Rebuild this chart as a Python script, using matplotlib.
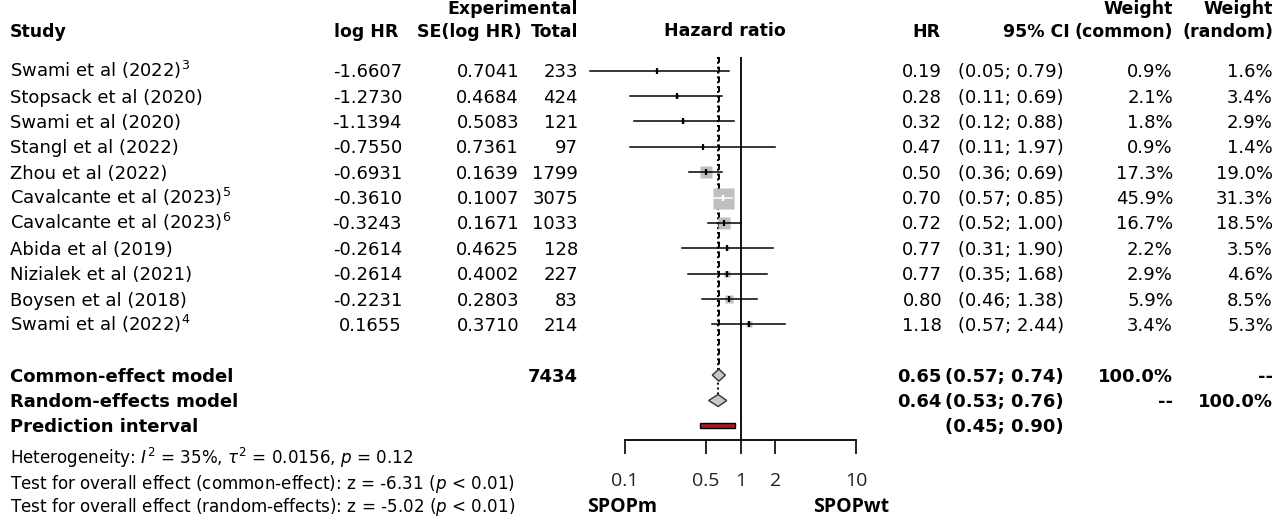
import numpy as np
import matplotlib.pyplot as plt
from matplotlib.patches import Rectangle

# study level data
studies = ["Swami et al (2022)$^{3}$", "Stopsack et al (2020)", "Swami et al (2020)",
           "Stangl et al (2022)", "Zhou et al (2022)", "Cavalcante et al (2023)$^{5}$",
           "Cavalcante et al (2023)$^{6}$", "Abida et al (2019)", "Nizialek et al (2021)",
           "Boysen et al (2018)", "Swami et al (2022)$^{4}$"]
log_hr = [-1.6607, -1.2730, -1.1394, -0.7550, -0.6931, -0.3610, -0.3243, -0.2614, -0.2614, -0.2231, 0.1655]
se_log_hr = [0.7041, 0.4684, 0.5083, 0.7361, 0.1639, 0.1007, 0.1671, 0.4625, 0.4002, 0.2803, 0.3710]
totals = [233, 424, 121, 97, 1799, 3075, 1033, 128, 227, 83, 214]
hr = [0.19, 0.28, 0.32, 0.47, 0.50, 0.70, 0.72, 0.77, 0.77, 0.80, 1.18]
ci_low = [0.05, 0.11, 0.12, 0.11, 0.36, 0.57, 0.52, 0.31, 0.35, 0.46, 0.57]
ci_high = [0.79, 0.69, 0.88, 1.97, 0.69, 0.85, 1.00, 1.90, 1.68, 1.38, 2.44]
w_common = [0.9, 2.1, 1.8, 0.9, 17.3, 45.9, 16.7, 2.2, 2.9, 5.9, 3.4]
w_random = [1.6, 3.4, 2.9, 1.4, 19.0, 31.3, 18.5, 3.5, 4.6, 8.5, 5.3]

# pooled estimates
pooled_names = ["Common-effect model", "Random-effects model"]
pooled_hr = [0.65, 0.64]
pooled_low = [0.57, 0.53]
pooled_high = [0.74, 0.76]
total_n = 7434
pred_low, pred_high = 0.45, 0.90

ticks = [0.1, 0.5, 1, 2, 10]
tick_labels = ["0.1", "0.5", "1", "2", "10"]

plt.rcParams['font.family'] = ['DejaVu Sans']
plt.rcParams['mathtext.fontset'] = 'dejavusans'

W, H = 1277, 518
fig = plt.figure(figsize=(W / 100, H / 100), dpi=100)

# text layer in pixel coordinates
tx = fig.add_axes([0, 0, 1, 1])
tx.set_xlim(0, W)
tx.set_ylim(H, 0)
tx.axis('off')

FS = 13
HFS = 12.5
ROW0, ROWH = 70.7, 25.37


def put(x, y, s, ha='left', bold=False, size=FS, **kw):
    tx.text(x, y + size / 2, s, ha=ha, va='baseline', fontsize=size,
            fontweight='bold' if bold else 'normal', **kw)


# columns (right edges)
c_lhr, c_se, c_tot = 402, 519, 578
c_hr, c_ci, c_wc, c_wr = 942, 1064, 1173, 1273

# headers (top title is cut by the image border, as in the source figure)
put(10, -7, "Overall survival - metastatic PC", bold=True)
put(c_tot, 8, "Experimental", ha='right', bold=True, size=HFS)
put(c_wc, 8, "Weight", ha='right', bold=True, size=HFS)
put(c_wr, 8, "Weight", ha='right', bold=True, size=HFS)
put(10, 31, "Study", bold=True, size=HFS)
put(c_lhr - 4, 31, "log HR", ha='right', bold=True, size=HFS)
put(c_se + 3, 31, "SE(log HR)", ha='right', bold=True, size=HFS)
put(c_tot, 31, "Total", ha='right', bold=True, size=HFS)
put(725, 30, "Hazard ratio", ha='center', bold=True, size=HFS)
put(c_hr - 1, 31, "HR", ha='right', bold=True, size=HFS)
put(c_ci + 6, 31, "95% CI", ha='right', bold=True, size=HFS)
put(c_wc, 31, "(common)", ha='right', bold=True, size=HFS)
put(c_wr, 31, "(random)", ha='right', bold=True, size=HFS)

# study rows
for i, name in enumerate(studies):
    y = ROW0 + i * ROWH
    put(10, y, name)
    put(c_lhr, y, f"{log_hr[i]:.4f}", ha='right')
    put(c_se, y, f"{se_log_hr[i]:.4f}", ha='right')
    put(c_tot, y, f"{totals[i]}", ha='right')
    put(c_hr, y, f"{hr[i]:.2f}", ha='right')
    put(c_ci, y, f"({ci_low[i]:.2f}; {ci_high[i]:.2f})", ha='right')
    put(c_wc, y, f"{w_common[i]:.1f}%", ha='right')
    put(c_wr, y, f"{w_random[i]:.1f}%", ha='right')

# pooled rows
n = len(studies)
for j, name in enumerate(pooled_names):
    y = ROW0 + (n + 1 + j) * ROWH
    put(10, y, name, bold=True)
    put(c_hr, y, f"{pooled_hr[j]:.2f}", ha='right', bold=True)
    put(c_ci, y, f"({pooled_low[j]:.2f}; {pooled_high[j]:.2f})", ha='right', bold=True)
    put(c_wc, y, "100.0%" if j == 0 else "--", ha='right', bold=True)
    put(c_wr, y, "--" if j == 0 else "100.0%", ha='right', bold=True)
put(c_tot, ROW0 + (n + 1) * ROWH, f"{total_n}", ha='right', bold=True)
y_pred = ROW0 + (n + 3) * ROWH
put(10, y_pred, "Prediction interval", bold=True)
put(c_ci, y_pred, f"({pred_low:.2f}; {pred_high:.2f})", ha='right', bold=True)

# heterogeneity / tests
put(10, 458, r"Heterogeneity: $I^2$ = 35%, $\tau^2$ = 0.0156, $p$ = 0.12", size=12.1)
put(10, 483, r"Test for overall effect (common-effect): z = -6.31 ($p$ < 0.01)", size=12.1)
put(10, 506, r"Test for overall effect (random-effects): z = -5.02 ($p$ < 0.01)", size=12.1)

# forest panel, placed in pixels
X1, DEC = 740.5, 115.5          # pixel of HR = 1, pixels per decade
px_l, px_r, px_t, px_b = 585, 880, 57, 440
ax = fig.add_axes([px_l / W, 1 - px_b / H, (px_r - px_l) / W, (px_b - px_t) / H])
ax.patch.set_alpha(0)
ax.set_xscale('log')
ax.set_xlim(10 ** ((px_l - X1) / DEC), 10 ** ((px_r - X1) / DEC))
ax.set_ylim((px_b - ROW0) / ROWH, (px_t - ROW0) / ROWH)
for s in ['top', 'left', 'right']:
    ax.spines[s].set_visible(False)
ax.spines['bottom'].set_bounds(0.1, 10)
ax.spines['bottom'].set_linewidth(1.3)
ax.set_yticks([])
ax.set_xticks(ticks)
ax.set_xticklabels(tick_labels, family='Open Sans', fontsize=14, color='#222222')
ax.minorticks_off()
ax.tick_params(axis='x', direction='out', length=10, width=1.2, pad=13)

ax.axvline(1, color='black', lw=1.3, zorder=1)
ax.vlines(pooled_hr[0], (px_t - ROW0) / ROWH, n + 1, colors='black', linestyles=(0, (3, 2)), lw=1.4, zorder=1)
ax.vlines(pooled_hr[1], (px_t - ROW0) / ROWH, n + 2, colors='black', linestyles=(0, (1, 1.5)), lw=1.4, zorder=1)

wmax = max(w_common)
for i in range(n):
    side_px = 21 * np.sqrt(w_common[i] / wmax)
    inside = (np.log10(ci_high[i] / hr[i]) * DEC < side_px / 2 and
              np.log10(hr[i] / ci_low[i]) * DEC < side_px / 2)
    col = 'white' if inside else 'black'
    ax.plot(hr[i], i, marker='s', ms=side_px * 0.72, mec='none', color='#bfbfbf', zorder=2)
    ax.plot([ci_low[i], ci_high[i]], [i, i], color=col, lw=1.1, zorder=3)
    ax.plot(hr[i], i, marker='|', ms=5, mew=1.6, color=col, zorder=4)

dh = 6 / ROWH
for j in range(2):
    r = n + 1 + j
    ax.fill([pooled_low[j], pooled_hr[j], pooled_high[j], pooled_hr[j]],
            [r, r - dh, r, r + dh], facecolor='#c8c8c8', edgecolor='#333333', lw=1, zorder=5)
r = n + 3
ax.add_patch(Rectangle((pred_low, r - 0.1), pred_high - pred_low, 0.2,
                       facecolor='#a31d1d', edgecolor='black', lw=1, zorder=5))

# axis end labels
tx.text(622, 507, "SPOPm", ha='center', va='center', family='Open Sans', fontweight='bold', fontsize=14)
tx.text(851, 507, "SPOPwt", ha='center', va='center', family='Open Sans', fontweight='bold', fontsize=14)

fig.savefig("out.png", dpi=100)
